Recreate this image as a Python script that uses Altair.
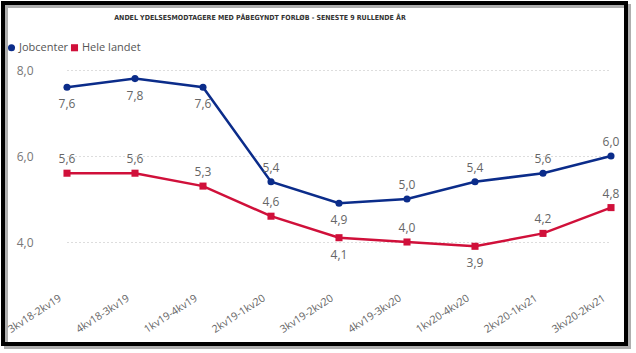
import altair as alt
import pandas as pd

categories = ["3kv18-2kv19", "4kv18-3kv19", "1kv19-4kv19", "2kv19-1kv20", "3kv19-2kv20",
              "4kv19-3kv20", "1kv20-4kv20", "2kv20-1kv21", "3kv20-2kv21"]
jobcenter = [7.6, 7.8, 7.6, 5.4, 4.9, 5.0, 5.4, 5.6, 6.0]
hele_landet = [5.6, 5.6, 5.3, 4.6, 4.1, 4.0, 3.9, 4.2, 4.8]
jobcenter_side = ["below", "below", "below", "above", "below", "above", "above", "above", "above"]
hele_side = ["above", "above", "above", "above", "below", "above", "below", "above", "above"]
y_ticks = [4.0, 6.0, 8.0]
series_names = ["Jobcenter", "Hele landet"]
series_colors = ["#0B2C8A", "#D0103A"]
title_text = "ANDEL YDELSESMODTAGERE MED PÅBEGYNDT FORLØB - SENESTE 9 RULLENDE ÅR"

rows = []
for i, c in enumerate(categories):
    rows.append({"cat": c, "series": "Jobcenter", "value": jobcenter[i], "side": jobcenter_side[i]})
    rows.append({"cat": c, "series": "Hele landet", "value": hele_landet[i], "side": hele_side[i]})
df = pd.DataFrame(rows)

FONT = "Segoe UI, Open Sans, Noto Sans, sans-serif"
L, T, W, H = 40, 58, 580, 232

x_enc = alt.X("cat:N", sort=categories,
              scale=alt.Scale(type="point", range=[27, 571], padding=0),
              axis=alt.Axis(title=None, labelAngle=-33, labelAlign="right", labelBaseline="middle",
                            labelPadding=7, labelOffset=-7, ticks=False, domain=False, grid=False,
                            labelFontSize=10.5, labelColor="#666666", labelFont=FONT))
y_enc = alt.Y("value:Q", scale=alt.Scale(domain=[4 - 48 / 43, 8 + 12 / 43], nice=False, zero=False),
              axis=alt.Axis(title=None, values=y_ticks, ticks=False, domain=False, labelPadding=7,
                            labelExpr="replace(format(datum.value, '.1f'), '.', ',')",
                            labelFontSize=12, labelColor="#777777", labelFont=FONT,
                            grid=True, gridDash=[1, 3], gridColor="#BBBBBB", gridWidth=1))
legend_cfg = alt.Legend(title=None, orient="none", legendX=-34, legendY=-16,
                        direction="horizontal", labelFontSize=11, labelColor="#555555",
                        labelFont=FONT, symbolSize=50, labelOffset=2, columnPadding=0,
                        symbolStrokeWidth=0)
color_enc = alt.Color("series:N", scale=alt.Scale(domain=series_names, range=series_colors),
                      legend=legend_cfg)
shape_enc = alt.Shape("series:N", scale=alt.Scale(domain=series_names, range=["circle", "square"]),
                      legend=legend_cfg)

base = alt.Chart(df)
lines = base.mark_line(strokeWidth=2.5).encode(x=x_enc, y=y_enc, color=color_enc, detail="series:N")
points = base.mark_point(filled=True, size=50, opacity=1).encode(x=x_enc, y=y_enc, color=color_enc, shape=shape_enc)

lab = base.transform_calculate(label="replace(format(datum.value, '.1f'), '.', ',')")
above = lab.transform_filter("datum.side == 'above'").mark_text(dy=-14, fontSize=12, color="#666666", font=FONT).encode(
    x=alt.X("cat:N", sort=categories), y="value:Q", text="label:N")
below = lab.transform_filter("datum.side == 'below'").mark_text(dy=17, fontSize=12, color="#666666", font=FONT).encode(
    x=alt.X("cat:N", sort=categories), y="value:Q", text="label:N")

one = alt.Data(values=[{"a": 1}])
shadow = alt.Chart(one).mark_rect(fill=None, stroke="#9A9A9A", strokeWidth=4, opacity=0.8).encode(
    x=alt.value(3 - L + 3), x2=alt.value(626 - L + 3), y=alt.value(3 - T + 3), y2=alt.value(344 - T + 3))
frame = alt.Chart(one).mark_rect(fill=None, stroke="#000000", strokeWidth=4).encode(
    x=alt.value(3 - L), x2=alt.value(626 - L), y=alt.value(3 - T), y2=alt.value(344 - T))
title = alt.Chart(one).mark_text(text=title_text, fontSize=7, fontWeight="bold", color="#333333",
                                 font="Liberation Sans Narrow, DejaVu Sans Condensed, Roboto",
                                 align="center", baseline="middle").encode(
    x=alt.value(260 - L), y=alt.value(18 - T))

chart = alt.layer(shadow, frame, title, lines, points, above, below).properties(
    width=W, height=H,
    autosize=alt.AutoSizeParams(type="none"),
    padding={"left": L, "top": T, "right": 636 - L - W, "bottom": 353 - T - H},
    background="white",
).configure_view(stroke=None)

chart.save("out.html", embed_options={"renderer": "svg", "actions": False})
